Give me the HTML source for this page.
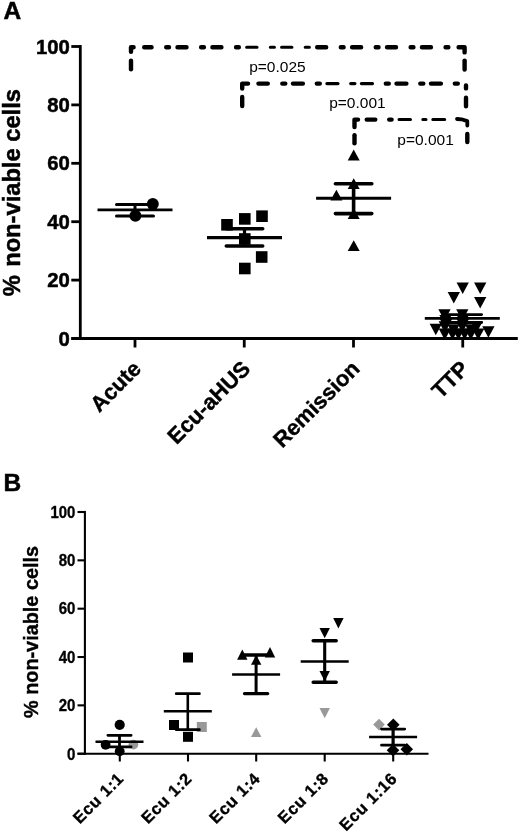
<!DOCTYPE html>
<html lang="en"><head><meta charset="utf-8"><title>Figure</title>
<style>html,body{margin:0;padding:0;background:#fff}svg{display:block}</style>
</head><body>
<svg width="520" height="833" viewBox="0 0 520 833">
<rect width="520" height="833" fill="#fff"/>
<text x="3.6" y="19.4" font-family="Liberation Sans, Arial, Helvetica, sans-serif" font-weight="bold" font-size="24.5" stroke="#000" stroke-width="0.5">A</text>
<g stroke="#000" stroke-width="2.8" fill="none" stroke-linecap="butt">
<path d="M80.3 45.1 V339.9"/>
<path d="M71.3 338.5 H517.8"/>
<path d="M71.3 338.50 H80.3"/>
<path d="M71.3 280.10 H80.3"/>
<path d="M71.3 221.70 H80.3"/>
<path d="M71.3 163.30 H80.3"/>
<path d="M71.3 104.90 H80.3"/>
<path d="M71.3 46.50 H80.3"/>
<path d="M135 338.5 V347.5"/>
<path d="M244.25 338.5 V347.5"/>
<path d="M353.5 338.5 V347.5"/>
<path d="M462.75 338.5 V347.5"/>
</g>
<text x="69.8" y="345.60" text-anchor="end" font-family="Liberation Sans, Arial, Helvetica, sans-serif" font-weight="bold" font-size="20.3" stroke="#000" stroke-width="0.5">0</text>
<text x="69.8" y="287.20" text-anchor="end" font-family="Liberation Sans, Arial, Helvetica, sans-serif" font-weight="bold" font-size="20.3" stroke="#000" stroke-width="0.5">20</text>
<text x="69.8" y="228.80" text-anchor="end" font-family="Liberation Sans, Arial, Helvetica, sans-serif" font-weight="bold" font-size="20.3" stroke="#000" stroke-width="0.5">40</text>
<text x="69.8" y="170.40" text-anchor="end" font-family="Liberation Sans, Arial, Helvetica, sans-serif" font-weight="bold" font-size="20.3" stroke="#000" stroke-width="0.5">60</text>
<text x="69.8" y="112.00" text-anchor="end" font-family="Liberation Sans, Arial, Helvetica, sans-serif" font-weight="bold" font-size="20.3" stroke="#000" stroke-width="0.5">80</text>
<text x="69.8" y="53.60" text-anchor="end" font-family="Liberation Sans, Arial, Helvetica, sans-serif" font-weight="bold" font-size="20.3" stroke="#000" stroke-width="0.5">100</text>
<text transform="translate(20.4 192.7) rotate(-90)" text-anchor="middle" font-family="Liberation Sans, Arial, Helvetica, sans-serif" font-weight="bold" font-size="23.7" stroke="#000" stroke-width="0.5">% <tspan dx="1.8">non-viable cells</tspan></text>
<text transform="translate(142.40 370.0) rotate(-45)" text-anchor="end" font-family="Liberation Sans, Arial, Helvetica, sans-serif" font-weight="bold" font-size="22.0" stroke="#000" stroke-width="0.4">Acute</text>
<text transform="translate(251.65 370.0) rotate(-45)" text-anchor="end" font-family="Liberation Sans, Arial, Helvetica, sans-serif" font-weight="bold" font-size="22.0" stroke="#000" stroke-width="0.4">Ecu-aHUS</text>
<text transform="translate(360.90 370.0) rotate(-45)" text-anchor="end" font-family="Liberation Sans, Arial, Helvetica, sans-serif" font-weight="bold" font-size="22.0" stroke="#000" stroke-width="0.4">Remission</text>
<text transform="translate(470.15 370.0) rotate(-45)" text-anchor="end" font-family="Liberation Sans, Arial, Helvetica, sans-serif" font-weight="bold" font-size="22.0" stroke="#000" stroke-width="0.4">TTP</text>
<circle cx="152.8" cy="203.9" r="6.0" fill="#000"/>
<circle cx="135.4" cy="215.8" r="6.0" fill="#000"/>
<path d="M97.50 209.8 H172.50" stroke="#000" stroke-width="2.8" fill="none"/>
<path d="M116.50 204.5 H153.50M116.50 215.9 H153.50" stroke="#000" stroke-width="3.0" stroke-linecap="round" fill="none"/>
<path d="M135 204.5 V215.9" stroke="#000" stroke-width="3.0" fill="none"/>
<rect x="256.20" y="210.40" width="11.6" height="11.6" fill="#000"/>
<rect x="239.00" y="213.10" width="11.6" height="11.6" fill="#000"/>
<rect x="221.20" y="219.00" width="11.6" height="11.6" fill="#000"/>
<rect x="239.00" y="233.20" width="11.6" height="11.6" fill="#000"/>
<rect x="255.90" y="251.20" width="11.6" height="11.6" fill="#000"/>
<rect x="239.00" y="262.70" width="11.6" height="11.6" fill="#000"/>
<path d="M207.00 237.6 H282.00" stroke="#000" stroke-width="3.1" fill="none"/>
<path d="M226.30 228.7 H262.70M226.30 246 H262.70" stroke="#000" stroke-width="3.6" stroke-linecap="round" fill="none"/>
<path d="M244.5 228.7 V246" stroke="#000" stroke-width="3.2" fill="none"/>
<path d="M353.7 149.6 L359.70 160.4 H347.70 Z" fill="#000"/>
<path d="M353.7 178.2 L359.70 189.0 H347.70 Z" fill="#000"/>
<path d="M336.4 189.8 L342.40 200.60000000000002 H330.40 Z" fill="#000"/>
<path d="M353.7 208.3 L359.70 219.10000000000002 H347.70 Z" fill="#000"/>
<path d="M353.7 240.2 L359.70 251.0 H347.70 Z" fill="#000"/>
<path d="M316.10 198.3 H391.10" stroke="#000" stroke-width="3.1" fill="none"/>
<path d="M335.40 183.8 H371.80M335.40 213.6 H371.80" stroke="#000" stroke-width="3.6" stroke-linecap="round" fill="none"/>
<path d="M353.6 183.8 V213.6" stroke="#000" stroke-width="3.6" fill="none"/>
<path d="M456.55 282.4 H468.85 L462.7 293.9 Z" fill="#000"/>
<path d="M474.05 282.4 H486.35 L480.2 293.9 Z" fill="#000"/>
<path d="M447.65 291.9 H459.95 L453.8 303.4 Z" fill="#000"/>
<path d="M474.05 296.9 H486.35 L480.2 308.4 Z" fill="#000"/>
<path d="M438.35 309.2 H450.65 L444.5 320.7 Z" fill="#000"/>
<path d="M456.15 309.2 H468.45 L462.3 320.7 Z" fill="#000"/>
<path d="M439.35 314.9 H451.65 L445.5 326.4 Z" fill="#000"/>
<path d="M456.65 314.9 H468.95 L462.8 326.4 Z" fill="#000"/>
<path d="M439.85 318.9 H452.15 L446 330.4 Z" fill="#000"/>
<path d="M456.65 318.9 H468.95 L462.8 330.4 Z" fill="#000"/>
<path d="M438.65 321.3 H450.95 L444.8 332.8 Z" fill="#000"/>
<path d="M456.15 321.3 H468.45 L462.3 332.8 Z" fill="#000"/>
<path d="M470.45 321.3 H482.75 L476.6 332.8 Z" fill="#000"/>
<path d="M429.65 323.8 H441.95 L435.8 335.3 Z" fill="#000"/>
<path d="M447.45 324.3 H459.75 L453.6 335.8 Z" fill="#000"/>
<path d="M464.85 324.3 H477.15 L471.0 335.8 Z" fill="#000"/>
<path d="M482.25 326.2 H494.55 L488.4 337.7 Z" fill="#000"/>
<path d="M438.65 328.59999999999997 H450.95 L444.8 340.09999999999997 Z" fill="#000"/>
<path d="M446.35 328.59999999999997 H458.65 L452.5 340.09999999999997 Z" fill="#000"/>
<path d="M452.25 328.59999999999997 H464.55 L458.4 340.09999999999997 Z" fill="#000"/>
<path d="M458.45 328.59999999999997 H470.75 L464.6 340.09999999999997 Z" fill="#000"/>
<path d="M464.65 328.59999999999997 H476.95 L470.8 340.09999999999997 Z" fill="#000"/>
<path d="M472.05 328.59999999999997 H484.35 L478.2 340.09999999999997 Z" fill="#000"/>
<path d="M424.80 318.4 H499.80" stroke="#000" stroke-width="2.7" fill="none"/>
<path d="M443.00 314.6 H481.60M443.00 322.5 H481.60" stroke="#000" stroke-width="2.9" stroke-linecap="round" fill="none"/>
<path d="M462.3 314.6 V322.5" stroke="#000" stroke-width="3.0" fill="none"/>
<path d="M131.00 51.80 L131.00 47.20 L133.60 47.20" stroke="#000" stroke-width="4.4" stroke-linecap="round" stroke-linejoin="round" fill="none"/>
<path d="M131.00 60.80L131.00 69.20" stroke="#000" stroke-width="4.4" stroke-linecap="round" stroke-linejoin="round" fill="none"/>
<path d="M144.20 47.20L151.55 47.20M166.20 47.20L169.00 47.20M177.50 47.20L186.50 47.20M201.12 47.20L203.92 47.20M212.42 47.20L221.42 47.20M236.04 47.20L238.84 47.20M317.18 47.20L326.18 47.20M340.80 47.20L343.60 47.20M352.10 47.20L361.10 47.20M375.72 47.20L378.52 47.20M387.02 47.20L396.02 47.20M410.64 47.20L413.44 47.20M421.94 47.20L430.94 47.20M445.56 47.20L448.36 47.20" stroke="#000" stroke-width="4.4" stroke-linecap="round" stroke-linejoin="round" fill="none"/>
<path d="M246.64 47.30L257.04 47.30M270.26 47.30L274.46 47.30M281.56 47.30L291.96 47.30M305.18 47.30L309.38 47.30" stroke="#000" stroke-width="3.0" stroke-linecap="round" stroke-linejoin="round" fill="none"/>
<path d="M458.60 47.20 L464.60 47.20 L464.60 52.40" stroke="#000" stroke-width="4.4" stroke-linecap="round" stroke-linejoin="round" fill="none"/>
<path d="M464.60 60.60L464.60 69.50" stroke="#000" stroke-width="4.4" stroke-linecap="round" stroke-linejoin="round" fill="none"/>
<path d="M242.20 88.50 L242.20 83.60 L248.00 83.60" stroke="#000" stroke-width="4.4" stroke-linecap="round" stroke-linejoin="round" fill="none"/>
<path d="M242.20 97.00L242.20 106.00" stroke="#000" stroke-width="4.4" stroke-linecap="round" stroke-linejoin="round" fill="none"/>
<path d="M258.45 83.60L267.80 83.60M282.30 83.60L285.30 83.60M293.00 83.60L302.90 83.60M316.80 83.60L319.80 83.60M385.80 83.60L388.80 83.60M396.50 83.60L406.40 83.60M420.30 83.60L423.30 83.60M431.00 83.60L440.90 83.60M454.80 83.60L457.80 83.60" stroke="#000" stroke-width="4.4" stroke-linecap="round" stroke-linejoin="round" fill="none"/>
<path d="M326.90 83.60L338.00 83.60M350.70 83.60L354.90 83.60M361.40 83.60L372.50 83.60" stroke="#000" stroke-width="3.2" stroke-linecap="round" stroke-linejoin="round" fill="none"/>
<path d="M466.00 85.50L466.00 88.40M466.00 97.80L466.00 106.30" stroke="#000" stroke-width="4.4" stroke-linecap="round" stroke-linejoin="round" fill="none"/>
<path d="M354.50 127.00 L354.50 119.60 L358.00 119.60" stroke="#000" stroke-width="4.4" stroke-linecap="round" stroke-linejoin="round" fill="none"/>
<path d="M354.50 135.20L354.50 143.20" stroke="#000" stroke-width="4.4" stroke-linecap="round" stroke-linejoin="round" fill="none"/>
<path d="M366.70 119.60L375.30 119.60M389.20 119.60L391.60 119.60" stroke="#000" stroke-width="4.4" stroke-linecap="round" stroke-linejoin="round" fill="none"/>
<path d="M399.00 119.40L410.50 119.40M422.80 119.40L426.00 119.40M432.80 119.40L444.70 119.40" stroke="#000" stroke-width="3.0" stroke-linecap="round" stroke-linejoin="round" fill="none"/>
<path d="M457.00 119.00 L461.50 119.30 L467.30 121.10 L467.30 125.60" stroke="#000" stroke-width="3.8000000000000003" stroke-linecap="round" stroke-linejoin="round" fill="none"/>
<path d="M467.30 134.00L467.30 142.10" stroke="#000" stroke-width="4.4" stroke-linecap="round" stroke-linejoin="round" fill="none"/>
<text x="249.2" y="71.9" font-family="Liberation Sans, Arial, Helvetica, sans-serif" font-size="15.5">p=0.025</text>
<text x="329.2" y="108.3" font-family="Liberation Sans, Arial, Helvetica, sans-serif" font-size="15.5">p=0.001</text>
<text x="397.3" y="144.7" font-family="Liberation Sans, Arial, Helvetica, sans-serif" font-size="15.5">p=0.001</text>
<text x="3.4" y="490.6" font-family="Liberation Sans, Arial, Helvetica, sans-serif" font-weight="bold" font-size="24.5" stroke="#000" stroke-width="0.5">B</text>
<g stroke="#000" stroke-width="2.1" fill="none">
<path d="M84.9 510.95 V754.75"/>
<path d="M77.5 753.7 H428.5"/>
<path d="M77.5 753.70 H84.9"/>
<path d="M77.5 705.36 H84.9"/>
<path d="M77.5 657.02 H84.9"/>
<path d="M77.5 608.68 H84.9"/>
<path d="M77.5 560.34 H84.9"/>
<path d="M77.5 512.00 H84.9"/>
<path d="M119.8 753.7 V761.5"/>
<path d="M188 753.7 V761.5"/>
<path d="M256.2 753.7 V761.5"/>
<path d="M324.7 753.7 V761.5"/>
<path d="M393.2 753.7 V761.5"/>
</g>
<text x="75.4" y="759.50" text-anchor="end" font-family="Liberation Sans, Arial, Helvetica, sans-serif" font-weight="bold" font-size="17.3" stroke="#000" stroke-width="0.35" textLength="8.4" lengthAdjust="spacingAndGlyphs">0</text>
<text x="75.4" y="711.16" text-anchor="end" font-family="Liberation Sans, Arial, Helvetica, sans-serif" font-weight="bold" font-size="17.3" stroke="#000" stroke-width="0.35" textLength="16.7" lengthAdjust="spacingAndGlyphs">20</text>
<text x="75.4" y="662.82" text-anchor="end" font-family="Liberation Sans, Arial, Helvetica, sans-serif" font-weight="bold" font-size="17.3" stroke="#000" stroke-width="0.35" textLength="16.7" lengthAdjust="spacingAndGlyphs">40</text>
<text x="75.4" y="614.48" text-anchor="end" font-family="Liberation Sans, Arial, Helvetica, sans-serif" font-weight="bold" font-size="17.3" stroke="#000" stroke-width="0.35" textLength="16.7" lengthAdjust="spacingAndGlyphs">60</text>
<text x="75.4" y="566.14" text-anchor="end" font-family="Liberation Sans, Arial, Helvetica, sans-serif" font-weight="bold" font-size="17.3" stroke="#000" stroke-width="0.35" textLength="16.7" lengthAdjust="spacingAndGlyphs">80</text>
<text x="75.4" y="517.80" text-anchor="end" font-family="Liberation Sans, Arial, Helvetica, sans-serif" font-weight="bold" font-size="17.3" stroke="#000" stroke-width="0.35" textLength="24.9" lengthAdjust="spacingAndGlyphs">100</text>
<text transform="translate(38.1 632.0) rotate(-90)" text-anchor="middle" font-family="Liberation Sans, Arial, Helvetica, sans-serif" font-weight="bold" font-size="19.85" stroke="#000" stroke-width="0.4">% non-viable cells</text>
<text transform="translate(124.90 779.4) rotate(-45)" text-anchor="end" font-family="Liberation Sans, Arial, Helvetica, sans-serif" font-weight="bold" font-size="16.5" letter-spacing="0.75" stroke="#000" stroke-width="0.35">Ecu 1:1</text>
<text transform="translate(193.10 779.4) rotate(-45)" text-anchor="end" font-family="Liberation Sans, Arial, Helvetica, sans-serif" font-weight="bold" font-size="16.5" letter-spacing="0.75" stroke="#000" stroke-width="0.35">Ecu 1:2</text>
<text transform="translate(261.30 779.4) rotate(-45)" text-anchor="end" font-family="Liberation Sans, Arial, Helvetica, sans-serif" font-weight="bold" font-size="16.5" letter-spacing="0.75" stroke="#000" stroke-width="0.35">Ecu 1:4</text>
<text transform="translate(329.80 779.4) rotate(-45)" text-anchor="end" font-family="Liberation Sans, Arial, Helvetica, sans-serif" font-weight="bold" font-size="16.5" letter-spacing="0.75" stroke="#000" stroke-width="0.35">Ecu 1:8</text>
<text transform="translate(398.30 779.4) rotate(-45)" text-anchor="end" font-family="Liberation Sans, Arial, Helvetica, sans-serif" font-weight="bold" font-size="16.5" letter-spacing="0.75" stroke="#000" stroke-width="0.35">Ecu 1:16</text>
<circle cx="133.4" cy="744.6" r="4.9" fill="#999"/>
<circle cx="119.7" cy="724.8" r="5.1" fill="#000"/>
<circle cx="105.6" cy="744.8" r="4.9" fill="#000"/>
<circle cx="119.7" cy="751.2" r="4.9" fill="#000"/>
<path d="M95.50 741.8 H143.50" stroke="#000" stroke-width="2.4" fill="none"/>
<path d="M107.85 735.3 H131.15M107.85 746.8 H131.15" stroke="#000" stroke-width="2.7" stroke-linecap="round" fill="none"/>
<path d="M119.5 735.3 V746.8" stroke="#000" stroke-width="2.8" fill="none"/>
<rect x="196.80" y="722.00" width="10" height="10" fill="#999"/>
<rect x="183.00" y="652.50" width="10" height="10" fill="#000"/>
<rect x="169.00" y="720.00" width="10" height="10" fill="#000"/>
<rect x="183.00" y="731.80" width="10" height="10" fill="#000"/>
<path d="M163.80 711.2 H211.80" stroke="#000" stroke-width="2.4" fill="none"/>
<path d="M176.20 693.7 H199.40M176.20 729.7 H199.40" stroke="#000" stroke-width="2.8" stroke-linecap="round" fill="none"/>
<path d="M187.8 693.7 V729.7" stroke="#000" stroke-width="2.6" fill="none"/>
<path d="M256.2 727.2 L261.40 737.0 H251.00 Z" fill="#999"/>
<path d="M242.3 649.4 L247.50 659.8 H237.10 Z" fill="#000"/>
<path d="M270 647 L275.20 657.4 H264.80 Z" fill="#000"/>
<path d="M256.2 655 L261.40 664.8 H251.00 Z" fill="#000"/>
<path d="M232.10 674.4 H280.10" stroke="#000" stroke-width="2.5" fill="none"/>
<path d="M244.50 655 H267.70M244.50 693.6 H267.70" stroke="#000" stroke-width="3.3" stroke-linecap="round" fill="none"/>
<path d="M256.1 655 V693.6" stroke="#000" stroke-width="3.0" fill="none"/>
<path d="M319.50 708 H329.90 L324.7 718.2 Z" fill="#999"/>
<path d="M333.20 618 H343.60 L338.4 628.6 Z" fill="#000"/>
<path d="M319.50 628 H329.90 L324.7 638.2 Z" fill="#000"/>
<path d="M319.50 671 H329.90 L324.7 681.2 Z" fill="#000"/>
<path d="M300.70 661.5 H348.70" stroke="#000" stroke-width="2.5" fill="none"/>
<path d="M313.15 640.7 H336.25M313.15 682.3 H336.25" stroke="#000" stroke-width="3.4" stroke-linecap="round" fill="none"/>
<path d="M324.7 640.7 V682.3" stroke="#000" stroke-width="3.1" fill="none"/>
<path d="M379 718.8000000000001 L384.8 724.6 L379 730.4 L373.2 724.6 Z" fill="#999"/>
<path d="M393.3 718.5 L399.6 724.8 L393.3 731.0999999999999 L387.0 724.8 Z" fill="#000"/>
<path d="M406.8 743.0 L413.1 749.3 L406.8 755.5999999999999 L400.5 749.3 Z" fill="#000"/>
<path d="M393 744.0 L399.3 750.3 L393 756.5999999999999 L386.7 750.3 Z" fill="#000"/>
<path d="M369.10 737 H417.10" stroke="#000" stroke-width="2.5" fill="none"/>
<path d="M381.50 729.1 H404.70M381.50 745.2 H404.70" stroke="#000" stroke-width="2.8" stroke-linecap="round" fill="none"/>
<path d="M393.1 729.1 V745.2" stroke="#000" stroke-width="3.2" fill="none"/>
</svg>
</body></html>
